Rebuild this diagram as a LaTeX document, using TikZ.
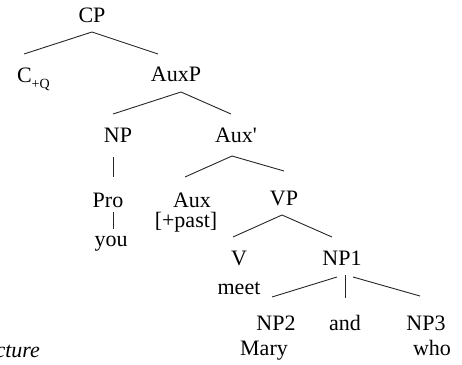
\documentclass[tikz,border=0pt]{standalone}
\usepackage{fontspec}
\setmainfont{Liberation Serif}[Ligatures=TeXOff]
\usetikzlibrary{calc}
\tikzset{
  lbl/.style={inner sep=0pt, outer sep=0pt, anchor=base, font=\fontsize{22}{26}\selectfont},
  branch/.style={line width=0.9pt, black!85}
}
\begin{document}
\begin{tikzpicture}[x=1pt, y=-1pt]
\useasboundingbox (0,0) rectangle (462,364);

% labels of the tree
\node[lbl] (CP)   at (92,22.5) {CP};
\node[lbl, anchor=base west] (CQ) at (17,82) {C\raisebox{-6pt}{\fontsize{14}{14}\selectfont +Q}};
\node[lbl] (AuxP) at (176,81)  {AuxP};
\node[lbl] (NP)   at (118,142) {NP};
\node[lbl] (Auxb) at (236,142) {Aux'};
\node[lbl] (Pro)  at (108,207) {Pro};
\node[lbl] (Aux)  at (192,207) {Aux};
\node[lbl] (VP)   at (284,205) {VP};
\node[lbl] (past) at (186,227) {[+past]};
\node[lbl] (you)  at (111,246) {you};
\node[lbl] (V)    at (239,265) {V};
\node[lbl] (NPone) at (342,265) {NP1};
\node[lbl] (meet) at (239,294) {meet};
\node[lbl] (NPtwo) at (276,330) {NP2};
\node[lbl] (and)  at (345,330) {and};
\node[lbl] (NPthree) at (426,330) {NP3};
\node[lbl] (Mary) at (264,355) {Mary};
\node[lbl] (who)  at (432,355) {who};
\node[lbl, anchor=base east, font=\fontsize{22}{26}\selectfont\itshape] (cap) at (40,357) {cture};

% branches
\draw[branch] ($(CQ.base west)+(7,-28)$) -- ($(CP.base)+(0,9.5)$) -- ($(AuxP.base)+(-18,-27)$);
\draw[branch] ($(NP.base)+(-5,-28)$) -- ($(AuxP.base)+(5,11)$) -- ($(Auxb.base)+(-5,-28)$);
\draw[branch] ($(NP.base)+(-5,15)$) -- ($(Pro.base)+(5,-30)$);
\draw[branch] ($(Pro.base)+(5,5)$) -- ($(you.base)+(2,-17)$);
\draw[branch] ($(Aux.base)+(-7,-30)$) -- ($(Auxb.base)+(-4,14)$) -- ($(VP.base)+(0,-34)$);
\draw[branch] ($(V.base)+(-6,-28)$) -- ($(VP.base)+(-2,10)$) -- ($(NPone.base)+(-10,-28)$);
\draw[branch] ($(NPone.base)+(-5,12)$) -- ($(NPtwo.base)+(-4,-33)$);
\draw[branch] ($(NPone.base)+(3,10)$) -- ($(and.base)+(0,-32)$);
\draw[branch] ($(NPone.base)+(11,12)$) -- ($(NPthree.base)+(-6,-34)$);
\end{tikzpicture}
\end{document}
